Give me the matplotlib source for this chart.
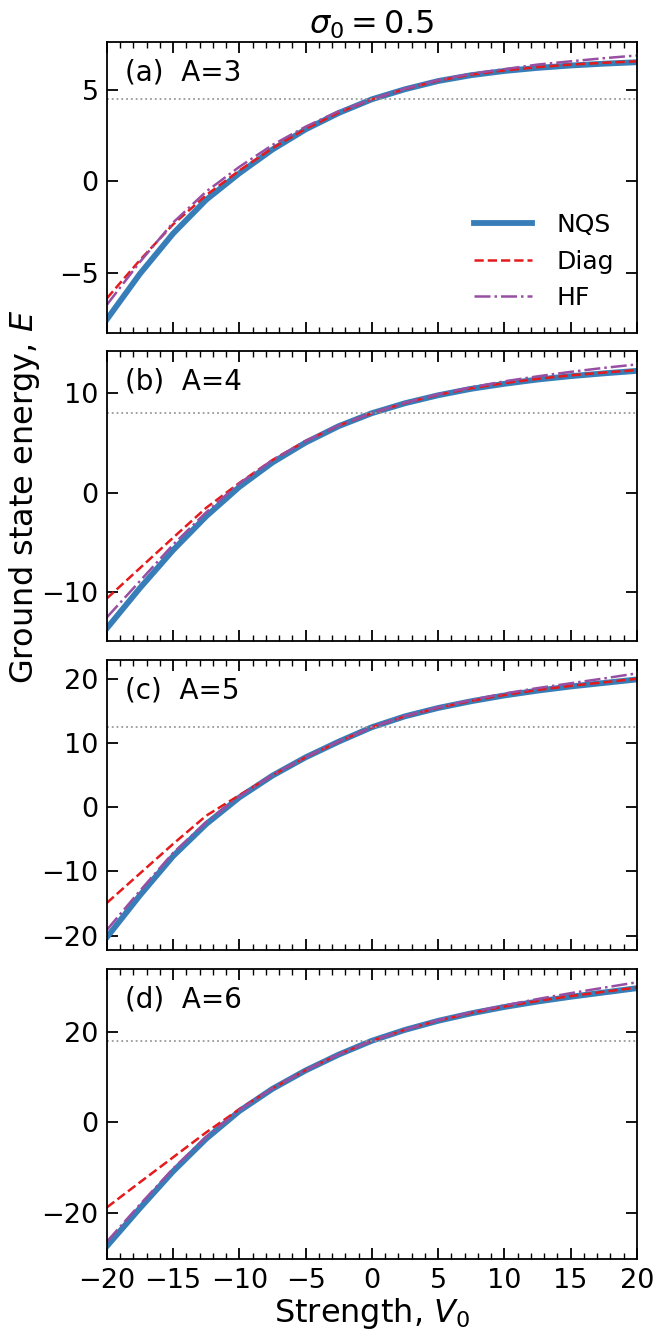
import numpy as np
import matplotlib.pyplot as plt

# strength V0 grid
V0 = [-20, -17.5, -15, -12.5, -10, -7.5, -5, -2.5, 0,
      2.5, 5, 7.5, 10, 12.5, 15, 17.5, 20]

A_values = [3, 4, 5, 6]
panel_tags = ['(a)', '(b)', '(c)', '(d)']

# A = 3
nqs_3 = [-7.55, -5.05, -2.85, -1.0, 0.45, 1.75, 2.85, 3.75, 4.5,
         5.05, 5.5, 5.82, 6.05, 6.22, 6.35, 6.45, 6.53]
diag_3 = [-6.4, -4.3, -2.35, -0.75, 0.6, 1.82, 2.88, 3.77, 4.5,
          5.06, 5.52, 5.85, 6.08, 6.26, 6.4, 6.5, 6.58]
hf_3 = [-6.75, -4.4, -2.25, -0.55, 0.8, 2.0, 3.0, 3.85, 4.5,
        5.08, 5.55, 5.9, 6.15, 6.4, 6.58, 6.75, 6.9]

# A = 4
nqs_4 = [-13.6, -9.55, -5.75, -2.35, 0.6, 3.05, 5.05, 6.7, 8.0,
         9.0, 9.8, 10.45, 10.95, 11.38, 11.72, 12.0, 12.25]
diag_4 = [-10.6, -7.55, -4.5, -1.5, 1.0, 3.3, 5.2, 6.75, 8.0,
          9.02, 9.85, 10.5, 11.02, 11.45, 11.8, 12.08, 12.33]
hf_4 = [-12.5, -8.85, -5.2, -1.95, 0.95, 3.3, 5.2, 6.78, 8.0,
        9.05, 9.9, 10.6, 11.2, 11.7, 12.15, 12.55, 12.9]

# A = 5
nqs_5 = [-20.25, -13.7, -7.6, -2.6, 1.55, 4.95, 7.8, 10.25, 12.5,
         14.2, 15.5, 16.55, 17.45, 18.2, 18.85, 19.4, 19.95]
diag_5 = [-14.9, -10.3, -5.7, -1.3, 1.9, 5.0, 7.8, 10.25, 12.5,
          14.2, 15.52, 16.6, 17.52, 18.3, 18.95, 19.5, 20.05]
hf_5 = [-19.1, -13.0, -7.1, -2.3, 1.7, 5.05, 7.85, 10.3, 12.5,
        14.25, 15.6, 16.75, 17.75, 18.6, 19.35, 20.1, 20.9]

# A = 6
nqs_6 = [-27.3, -18.9, -10.8, -3.6, 2.5, 7.4, 11.45, 14.95, 18.0,
         20.4, 22.4, 24.05, 25.45, 26.65, 27.7, 28.65, 29.6]
diag_6 = [-18.75, -13.2, -7.7, -2.2, 2.9, 7.5, 11.5, 15.0, 18.0,
          20.42, 22.45, 24.12, 25.55, 26.78, 27.85, 28.8, 29.75]
hf_6 = [-26.3, -18.1, -10.2, -3.2, 2.7, 7.5, 11.5, 15.0, 18.0,
        20.45, 22.55, 24.3, 25.8, 27.2, 28.5, 29.7, 30.9]

nqs_all = [nqs_3, nqs_4, nqs_5, nqs_6]
diag_all = [diag_3, diag_4, diag_5, diag_6]
hf_all = [hf_3, hf_4, hf_5, hf_6]

plt.rcParams['axes.linewidth'] = 1.3

fig, axes = plt.subplots(4, 1, sharex=True, figsize=(6.64, 13.38), dpi=100)
fig.subplots_adjust(left=0.161, right=0.959, bottom=0.0588, top=0.9684,
                    hspace=0.0645)

for i, ax in enumerate(axes):
    A = A_values[i]
    ax.plot(V0, nqs_all[i], color='#377eb8', lw=4.2, label='NQS')
    ax.plot(V0, diag_all[i], color='#e41a1c', lw=1.8, ls='--', label='Diag')
    ax.plot(V0, hf_all[i], color='#984ea3', lw=1.8, ls='-.', label='HF')
    # non-interacting energy A^2/2
    ax.axhline(A ** 2 / 2, color='0.6', lw=1.3, ls=':')

    ax.text(0.034, 0.945, panel_tags[i] + '  A=' + str(A), fontsize=20,
            transform=ax.transAxes, va='top', ha='left')

    ax.set_xlim(-20, 20)
    ax.set_xticks(np.arange(-20, 21, 5))
    ax.set_xticks(np.arange(-20, 21, 1), minor=True)
    ax.tick_params(which='both', direction='in', top=True, right=True,
                   labelsize=19.5, pad=6)
    ax.tick_params(which='major', length=8, width=1.3)
    ax.tick_params(which='minor', length=4.5, width=1.0)

axes[0].set_title(r'$\sigma_0 = 0.5$', fontsize=23)
axes[0].legend(loc='lower right', frameon=False, fontsize=18,
               handlelength=2.3, handletextpad=1.0)
axes[1].set_ylabel('Ground state energy, $E$', fontsize=23)
axes[1].yaxis.set_label_coords(-0.122, 0.5)
axes[-1].set_xlabel('Strength, $V_0$', fontsize=23, labelpad=2)

fig.savefig('out.png', dpi=100)
